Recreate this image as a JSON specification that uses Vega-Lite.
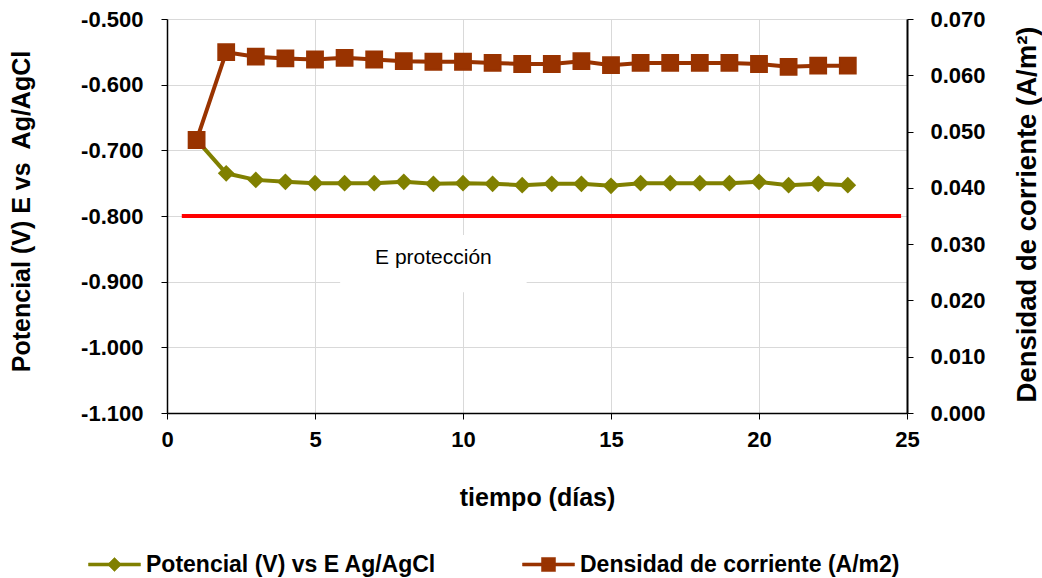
{
  "$schema": "https://vega.github.io/schema/vega-lite/v6.json",
  "width": 740,
  "height": 394,
  "autosize": {"type": "none"},
  "padding": {"left": 167, "top": 19, "right": 135, "bottom": 165},
  "background": "white",
  "datasets": {
    "mediciones": [
      {"dia": 1, "potencial": -0.684, "densidad": 0.0485},
      {"dia": 2, "potencial": -0.735, "densidad": 0.0641},
      {"dia": 3, "potencial": -0.745, "densidad": 0.0633},
      {"dia": 4, "potencial": -0.748, "densidad": 0.0630},
      {"dia": 5, "potencial": -0.750, "densidad": 0.0628},
      {"dia": 6, "potencial": -0.750, "densidad": 0.0631},
      {"dia": 7, "potencial": -0.750, "densidad": 0.0628},
      {"dia": 8, "potencial": -0.748, "densidad": 0.0625},
      {"dia": 9, "potencial": -0.751, "densidad": 0.0624},
      {"dia": 10, "potencial": -0.750, "densidad": 0.0624},
      {"dia": 11, "potencial": -0.751, "densidad": 0.0622},
      {"dia": 12, "potencial": -0.753, "densidad": 0.0620},
      {"dia": 13, "potencial": -0.751, "densidad": 0.0620},
      {"dia": 14, "potencial": -0.751, "densidad": 0.0625},
      {"dia": 15, "potencial": -0.754, "densidad": 0.0618},
      {"dia": 16, "potencial": -0.750, "densidad": 0.0622},
      {"dia": 17, "potencial": -0.750, "densidad": 0.0622},
      {"dia": 18, "potencial": -0.750, "densidad": 0.0622},
      {"dia": 19, "potencial": -0.750, "densidad": 0.0622},
      {"dia": 20, "potencial": -0.748, "densidad": 0.0620},
      {"dia": 21, "potencial": -0.753, "densidad": 0.0615},
      {"dia": 22, "potencial": -0.751, "densidad": 0.0617},
      {"dia": 23, "potencial": -0.753, "densidad": 0.0617}
    ],
    "proteccion": [
      {"dia": 0.5, "E": -0.8},
      {"dia": 24.8, "E": -0.8}
    ],
    "etiqueta": [
      {"x1": 5.85, "x2": 12.15, "y1": -0.829, "y2": -0.916, "xm": 9.0, "ym": -0.864, "texto": "E protección"}
    ]
  },
  "layer": [
    {
      "layer": [
        {
          "data": {"name": "etiqueta"},
          "mark": {"type": "rect", "fill": "white", "stroke": null},
          "encoding": {
            "x": {"field": "x1", "type": "quantitative", "scale": {"domain": [0, 25], "nice": false}, "axis": {"values": [0, 5, 10, 15, 20, 25], "format": "d"}, "title": "tiempo (días)"},
            "x2": {"field": "x2"},
            "y": {"field": "y1", "type": "quantitative", "scale": {"domain": [-1.1, -0.5], "nice": false, "zero": false}, "axis": {"orient": "left", "values": [-1.1, -1.0, -0.9, -0.8, -0.7, -0.6, -0.5], "format": ".3f", "labelExpr": "replace(datum.label, '\u2212', '-')"}, "title": "Potencial (V) E vs\u00a0 Ag/AgCl"},
            "y2": {"field": "y2"}
          }
        },
        {
          "data": {"name": "etiqueta"},
          "mark": {"type": "text", "font": "Liberation Sans", "fontSize": 21, "color": "black", "align": "center", "baseline": "middle"},
          "encoding": {
            "x": {"field": "xm", "type": "quantitative", "title": "tiempo (días)"},
            "y": {"field": "ym", "type": "quantitative", "title": "Potencial (V) E vs\u00a0 Ag/AgCl"},
            "text": {"field": "texto"}
          }
        },
        {
          "data": {"name": "proteccion"},
          "mark": {"type": "line", "color": "#ff0000", "strokeWidth": 4},
          "encoding": {
            "x": {"field": "dia", "type": "quantitative", "title": "tiempo (días)"},
            "y": {"field": "E", "type": "quantitative", "title": "Potencial (V) E vs\u00a0 Ag/AgCl"}
          }
        },
        {
          "data": {"name": "mediciones"},
          "mark": {"type": "line", "strokeWidth": 4, "point": {"filled": true, "shape": "diamond", "size": 280}},
          "encoding": {
            "x": {"field": "dia", "type": "quantitative", "title": "tiempo (días)"},
            "y": {"field": "potencial", "type": "quantitative", "title": "Potencial (V) E vs\u00a0 Ag/AgCl"},
            "color": {
              "datum": "Potencial (V) vs E Ag/AgCl",
              "scale": {"domain": ["Potencial (V) vs E Ag/AgCl"], "range": ["#808000"]},
              "legend": {
                "title": null,
                "orient": "none",
                "legendX": -79,
                "legendY": 519,
                "padding": 0,
                "symbolSize": 2704,
                "symbolType": "M-1,-0.06H1V0.06H-1Z M-0.27,0L0,-0.27L0.27,0L0,0.27Z",
                "labelOffset": 5,
                "labelLimit": 500,
                "labelFont": "Liberation Sans",
                "labelFontSize": 23,
                "labelFontWeight": "bold",
                "labelColor": "black",
                "encoding": {
                  "symbols": {
                    "fill": {"value": "#808000"},
                    "fillOpacity": {"value": 1},
                    "stroke": {"value": "#808000"},
                    "strokeWidth": {"value": 0.5},
                    "opacity": {"value": 1}
                  }
                }
              }
            }
          }
        }
      ]
    },
    {
      "data": {"name": "mediciones"},
      "mark": {"type": "line", "strokeWidth": 4, "point": {"filled": true, "shape": "square", "size": 250, "color": "#993300", "fill": "#993300"}},
      "encoding": {
        "x": {"field": "dia", "type": "quantitative", "title": "tiempo (días)"},
        "y": {"field": "densidad", "type": "quantitative", "scale": {"domain": [0, 0.07], "nice": false}, "axis": {"orient": "right", "values": [0, 0.01, 0.02, 0.03, 0.04, 0.05, 0.06, 0.07], "format": ".3f"}, "title": "Densidad de corriente (A/m²)"},
        "stroke": {
          "datum": "Densidad de corriente (A/m2)",
          "scale": {"domain": ["Densidad de corriente (A/m2)"], "range": ["#993300"]},
          "legend": {
            "title": null,
            "orient": "none",
            "legendX": 355,
            "legendY": 519,
            "padding": 0,
            "symbolSize": 2704,
            "symbolType": "M-1,-0.06H1V0.06H-1Z M-0.27,-0.27H0.27V0.27H-0.27Z",
            "labelOffset": 5,
            "labelLimit": 500,
            "labelFont": "Liberation Sans",
            "labelFontSize": 23,
            "labelFontWeight": "bold",
            "labelColor": "black",
            "encoding": {
              "symbols": {
                "fill": {"value": "#993300"},
                "fillOpacity": {"value": 1},
                "stroke": {"value": "#993300"},
                "strokeWidth": {"value": 0.5},
                "opacity": {"value": 1}
              }
            }
          }
        }
      }
    }
  ],
  "resolve": {"scale": {"y": "independent"}},
  "config": {
    "view": {"stroke": null},
    "axis": {
      "labelFont": "Liberation Sans",
      "labelFontWeight": "bold",
      "labelFontSize": 22,
      "labelColor": "black",
      "titleFont": "Liberation Sans",
      "titleFontWeight": "bold",
      "titleFontSize": 24,
      "titleColor": "black",
      "domainColor": "black",
      "tickColor": "black",
      "gridColor": "#d9d9d9",
      "gridWidth": 1,
      "tickSize": 6
    },
    "axisX": {"grid": true, "labelPadding": 10, "titleY": 84, "titleBaseline": "middle", "titleFontSize": 25, "domainWidth": 1.5, "labelFlush": false},
    "axisLeft": {"grid": true, "labelPadding": 18, "titleAngle": -90, "titleX": -146, "titleY": 192, "titleBaseline": "middle", "titleAlign": "center", "titleFontSize": 25, "domainWidth": 1.5},
    "axisRight": {"grid": false, "labelPadding": 17, "titleAngle": 270, "titleX": 120, "titleY": 195, "titleBaseline": "middle", "titleAlign": "center", "titleFontSize": 27.5, "domainWidth": 2}
  }
}
